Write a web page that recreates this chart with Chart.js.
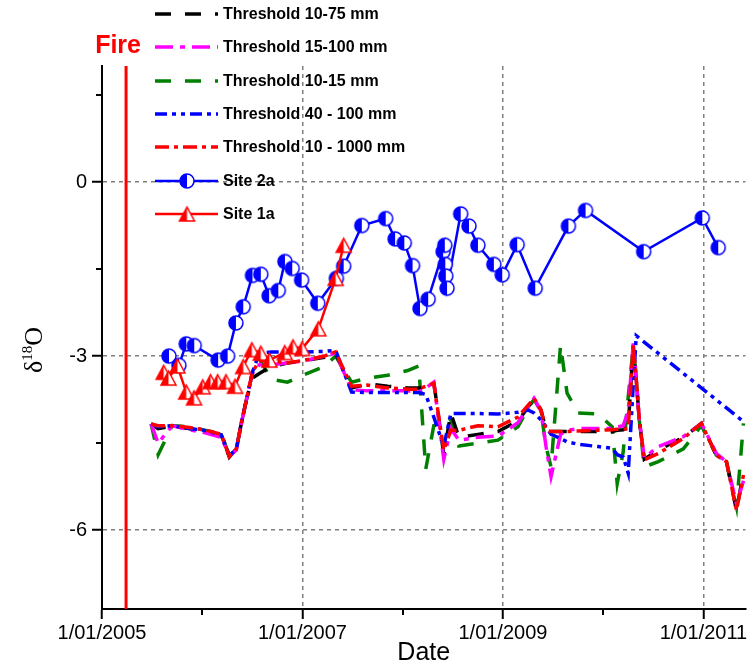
<!DOCTYPE html>
<html>
<head>
<meta charset="utf-8">
<script src="https://cdn.jsdelivr.net/npm/chart.js@4"></script>
<style>
  html, body { margin: 0; padding: 0; background: #fff; }
  #wrap { width: 755px; height: 668px; position: relative; }
</style>
</head>
<body>
<div id="wrap"><canvas id="chart"></canvas></div>
<script>
// ---------- Data ----------
const SERIES_LABELS = [
  "Threshold 10-75 mm",
  "Threshold 15-100 mm",
  "Threshold 10-15 mm",
  "Threshold 40 - 100 mm",
  "Threshold 10 - 1000 mm",
  "Site 2a",
  "Site 1a",
];

// decimal years, shared by the five modelled threshold series
const THRESHOLD_DATES = [
  2005.49, 2005.56, 2005.70, 2005.87, 2006.02, 2006.19, 2006.27, 2006.34, 2006.39, 2006.44,
  2006.50, 2006.57, 2006.69, 2006.85, 2007.02, 2007.22, 2007.33, 2007.49, 2007.65, 2007.85,
  2008.05, 2008.16, 2008.23, 2008.31, 2008.41, 2008.48, 2008.56, 2008.75, 2008.95, 2009.15,
  2009.25, 2009.31, 2009.38, 2009.43, 2009.48, 2009.575, 2009.64, 2009.75, 2009.95, 2010.09,
  2010.14, 2010.20, 2010.25, 2010.30, 2010.33, 2010.36, 2010.41, 2010.55, 2010.80, 2010.98,
  2011.13, 2011.23, 2011.33, 2011.40,
];

const T_10_75 = [
  -4.17, -4.25, -4.21, -4.25, -4.30, -4.36, -4.74, -4.60, -4.16, -3.76,
  -3.38, -3.30, -3.18, -3.12, -3.08, -3.02, -2.95, -3.55, -3.48, -3.52,
  -3.55, -3.55, -3.50, -3.45, -4.70, -3.98, -4.40, -4.35, -4.30, -4.12,
  -3.88, -3.73, -3.93, -4.28, -4.30, -4.30, -4.30, -4.30, -4.30, -4.30,
  -4.28, -4.27, -4.22, -2.81, -3.40, -4.10, -4.78, -4.62, -4.40, -4.16,
  -4.71, -4.82, -5.66, -5.00,
];

const T_15_100 = [
  -4.17, -4.50, -4.20, -4.27, -4.32, -4.40, -4.72, -4.62, -4.16, -3.76,
  -3.30, -3.15, -3.15, -3.12, -3.08, -3.00, -2.95, -3.58, -3.60, -3.60,
  -3.60, -3.62, -3.55, -3.45, -4.78, -4.25, -4.45, -4.40, -4.38, -4.15,
  -3.88, -3.73, -3.95, -4.56, -5.08, -4.35, -4.28, -4.25, -4.25, -4.25,
  -4.22, -4.20, -3.95, -2.78, -3.40, -4.10, -4.75, -4.56, -4.39, -4.16,
  -4.68, -4.82, -5.55, -5.15,
];

const T_10_15 = [
  -4.17, -4.70, -4.20, -4.22, -4.28, -4.33, -4.72, -4.62, -4.16, -3.76,
  -3.30, -3.05, -3.40, -3.45, -3.32, -3.18, -3.00, -3.45, -3.38, -3.33,
  -3.25, -3.17, -4.95, -4.20, -4.15, -4.08, -4.55, -4.50, -4.45, -4.22,
  -3.90, -3.75, -3.95, -4.56, -4.91, -2.81, -3.64, -3.98, -4.00, -4.22,
  -5.20, -4.65, -3.70, -2.84, -3.40, -4.10, -4.91, -4.82, -4.60, -4.20,
  -4.71, -4.82, -5.60, -4.16,
];

const T_40_100 = [
  -4.17, -4.22, -4.20, -4.25, -4.28, -4.36, -4.72, -4.60, -4.16, -3.76,
  -3.28, -2.95, -2.93, -2.93, -2.93, -2.92, -2.90, -3.62, -3.63, -3.63,
  -3.63, -3.63, -3.66, -4.05, -4.56, -3.99, -3.99, -3.99, -4.00, -3.97,
  -3.93, -3.98, -4.10, -4.22, -4.35, -4.42, -4.48, -4.52, -4.56, -4.59,
  -4.70, -4.74, -5.02, -3.50, -2.65, null, null, null, null, null,
  null, null, null, -4.13,
];

const T_10_1000 = [
  -4.17, -4.20, -4.20, -4.23, -4.27, -4.35, -4.73, -4.60, -4.16, -3.76,
  -3.28, -3.08, -3.08, -3.12, -3.07, -3.00, -2.93, -3.52, -3.50, -3.55,
  -3.57, -3.57, -3.52, -3.47, -4.62, -4.28, -4.28, -4.20, -4.22, -4.05,
  -3.85, -3.73, -3.93, -4.28, -4.30, -4.30, -4.30, -4.29, -4.28, -4.27,
  -4.26, -4.26, -4.25, -2.81, -3.40, -4.10, -4.79, -4.68, -4.42, -4.16,
  -4.71, -4.82, -5.66, -5.05,
];

const SITE2A_DATES = [
  2005.668, 2005.767, 2005.840, 2005.920, 2006.158, 2006.253, 2006.336, 2006.409, 2006.501, 2006.584,
  2006.667, 2006.759, 2006.825, 2006.898, 2006.991, 2007.153, 2007.338, 2007.411, 2007.592, 2007.830,
  2007.924, 2008.016, 2008.098, 2008.172, 2008.254, 2008.403, 2008.420, 2008.425, 2008.430, 2008.442,
  2008.578, 2008.661, 2008.750, 2008.909, 2008.993, 2009.142, 2009.322, 2009.653, 2009.824, 2010.404,
  2010.989, 2011.148,
];
const SITE2A_VALUES = [
  -3.00, -3.16, -2.79, -2.82, -3.07, -3.00, -2.43, -2.15, -1.61, -1.59,
  -1.96, -1.87, -1.37, -1.49, -1.69, -2.09, -1.66, -1.45, -0.75, -0.63,
  -0.98, -1.05, -1.44, -2.18, -2.02, -1.20, -1.09, -1.42, -1.62, -1.83,
  -0.55, -0.76, -1.09, -1.42, -1.60, -1.08, -1.83, -0.76, -0.49, -1.20,
  -0.62, -1.13,
];

const SITE1A_DATES = [
  2005.615, 2005.663, 2005.752, 2005.840, 2005.918, 2006.005, 2006.083, 2006.154, 2006.237, 2006.327,
  2006.409, 2006.495, 2006.584, 2006.670, 2006.823, 2006.905, 2006.997, 2007.158, 2007.331, 2007.411,
];
const SITE1A_VALUES = [
  -3.28, -3.38, -3.17, -3.62, -3.72, -3.53, -3.44, -3.44, -3.44, -3.52,
  -3.18, -2.89, -2.95, -3.07, -2.94, -2.84, -2.87, -2.53, -1.66, -1.09,
];

const FIRE_DATE = 2005.24;
const FIRE_LABEL = "Fire";

const X_MIN = 2005, X_MAX = 2011.42;
const Y_MIN = -7.36, Y_MAX = 2.0;
const X_TICKS = [2005, 2006, 2007, 2008, 2009, 2010, 2011];
const X_LABELED = [2005, 2007, 2009, 2011];
const Y_TICKS = [-6, -4.5, -3, -1.5, 0, 1.5];
const Y_LABELED = [-6, -3, 0];

// ---------- Markers ----------
function makeHalfCircle(color, r) {
  const s = Math.ceil(r * 2 + 4);
  const c = document.createElement("canvas");
  c.width = c.height = s;
  const g = c.getContext("2d");
  const cx = s / 2, cy = s / 2;
  g.fillStyle = "#fff";
  g.beginPath(); g.arc(cx, cy, r, 0, Math.PI * 2); g.fill();
  g.fillStyle = color;
  g.beginPath(); g.arc(cx, cy, r, Math.PI / 2, Math.PI * 1.5); g.closePath(); g.fill();
  g.strokeStyle = color; g.lineWidth = 1.5;
  g.beginPath(); g.arc(cx, cy, r, 0, Math.PI * 2); g.stroke();
  return c;
}

function makeHalfTriangle(color, r) {
  const w = Math.ceil(r * 2 + 4), h = Math.ceil(r * 1.8 + 4);
  const c = document.createElement("canvas");
  c.width = w; c.height = h;
  const g = c.getContext("2d");
  const cx = w / 2, top = 2, bot = h - 2;
  const half = r;
  g.fillStyle = "#fff";
  g.beginPath(); g.moveTo(cx, top); g.lineTo(cx - half, bot); g.lineTo(cx + half, bot); g.closePath(); g.fill();
  g.fillStyle = color;
  g.beginPath(); g.moveTo(cx, top); g.lineTo(cx - half, bot); g.lineTo(cx, bot); g.closePath(); g.fill();
  g.strokeStyle = color; g.lineWidth = 1.5; g.lineJoin = "miter";
  g.beginPath(); g.moveTo(cx, top); g.lineTo(cx - half, bot); g.lineTo(cx + half, bot); g.closePath(); g.stroke();
  return c;
}

const circleMarker = makeHalfCircle("#0000ff", 7);
const triangleMarker = makeHalfTriangle("#ff0000", 7.5);

// ---------- Datasets ----------
function pts(dates, values) {
  return dates.map((d, i) => ({ x: d, y: values[i] }));
}

function thresholdSet(label, values, color, dash) {
  return {
    label,
    data: pts(THRESHOLD_DATES, values),
    borderColor: color,
    backgroundColor: color,
    borderWidth: 3.5,
    borderDash: dash,
    pointRadius: 0,
    pointHoverRadius: 0,
    spanGaps: true,
  };
}

const siteSet = (label, dates, values, color, marker) => ({
  label,
  data: pts(dates, values),
  borderColor: color,
  backgroundColor: color,
  borderWidth: 2.5,
  pointStyle: marker,
  pointRadius: 7,
  pointHoverRadius: 7,
});

// first in the array is drawn on top
const datasets = [
  siteSet(SERIES_LABELS[6], SITE1A_DATES, SITE1A_VALUES, "#ff0000", triangleMarker),
  siteSet(SERIES_LABELS[5], SITE2A_DATES, SITE2A_VALUES, "#0000ff", circleMarker),
  thresholdSet(SERIES_LABELS[4], T_10_1000, "#ff0000", [14, 5, 4, 5]),
  thresholdSet(SERIES_LABELS[3], T_40_100, "#0000ff", [12, 5, 4, 5, 4, 5]),
  thresholdSet(SERIES_LABELS[1], T_15_100, "#ff00ff", [18, 7, 5, 7]),
  thresholdSet(SERIES_LABELS[0], T_10_75, "#000000", [16, 14]),
  thresholdSet(SERIES_LABELS[2], T_10_15, "#008000", [16, 14]),
  {
    label: FIRE_LABEL,
    data: [{ x: FIRE_DATE, y: Y_MAX }, { x: FIRE_DATE, y: Y_MIN }],
    borderColor: "#ff0000",
    borderWidth: 3,
    pointRadius: 0,
  },
];

// legend rows, top to bottom, as dataset indices
const LEGEND_ORDER = [5, 4, 6, 3, 2, 1, 0];

// ---------- Overlay: legend, fire label, y title, minor ticks ----------
const overlayPlugin = {
  id: "overlay",
  afterDraw(chart) {
    const ctx = chart.ctx;
    const xs = chart.scales.x, ys = chart.scales.y;
    ctx.save();

    // minor ticks
    ctx.strokeStyle = "#000";
    ctx.lineWidth = 2;
    X_TICKS.filter(v => !X_LABELED.includes(v)).forEach(v => {
      const px = Math.round(xs.getPixelForValue(v));
      ctx.beginPath(); ctx.moveTo(px, ys.bottom); ctx.lineTo(px, ys.bottom + 6); ctx.stroke();
    });
    Y_TICKS.filter(v => !Y_LABELED.includes(v)).forEach(v => {
      const py = Math.round(ys.getPixelForValue(v));
      ctx.beginPath(); ctx.moveTo(xs.left - 6, py); ctx.lineTo(xs.left, py); ctx.stroke();
    });

    // fire label
    ctx.fillStyle = "#ff0000";
    ctx.font = "bold 25px 'Liberation Sans'";
    ctx.textAlign = "center";
    ctx.textBaseline = "alphabetic";
    ctx.fillText(FIRE_LABEL, xs.getPixelForValue(FIRE_DATE) - 8, 53);

    // legend
    LEGEND_ORDER.forEach((dsIndex, row) => {
      const ds = chart.data.datasets[dsIndex];
      const y = Math.round(14 + row * 33.3);
      ctx.strokeStyle = ds.borderColor;
      ctx.lineWidth = ds.borderWidth;
      ctx.setLineDash(ds.borderDash || []);
      ctx.beginPath(); ctx.moveTo(155, y); ctx.lineTo(218, y); ctx.stroke();
      ctx.setLineDash([]);
      if (ds.pointStyle instanceof HTMLCanvasElement) {
        const m = ds.pointStyle;
        ctx.drawImage(m, 187 - m.width / 2, y - m.height / 2);
      }
      ctx.fillStyle = "#000";
      ctx.font = "bold 16px 'Liberation Sans'";
      ctx.textAlign = "left";
      ctx.textBaseline = "middle";
      ctx.fillText(ds.label, 223, y + 1);
    });

    // y axis title: delta 18 O
    ctx.translate(0, 350);
    ctx.rotate(-Math.PI / 2);
    ctx.fillStyle = "#000";
    ctx.textAlign = "left";
    ctx.textBaseline = "alphabetic";
    const big = "26px 'Liberation Serif'", small = "15px 'Liberation Serif'";
    ctx.font = big; const wd = ctx.measureText("δ").width, wo = ctx.measureText("O").width;
    ctx.font = small; const ws = ctx.measureText("18").width;
    let x0 = -(wd + ws + wo) / 2;
    ctx.font = big; ctx.fillText("δ", x0, 42);
    ctx.font = small; ctx.fillText("18", x0 + wd, 32);
    ctx.font = big; ctx.fillText("O", x0 + wd + ws, 42);

    ctx.restore();
  },
};

// ---------- Chart ----------
new Chart(document.getElementById("chart"), {
  type: "line",
  data: { datasets },
  plugins: [overlayPlugin],
  options: {
    responsive: true,
    maintainAspectRatio: false,
    animation: false,
    layout: { padding: { top: 66, right: 6, left: 0, bottom: 0 } },
    plugins: { legend: { display: false }, tooltip: { enabled: false } },
    elements: { line: { tension: 0 } },
    scales: {
      x: {
        type: "linear",
        min: X_MIN,
        max: X_MAX,
        afterBuildTicks: s => { s.ticks = X_TICKS.map(v => ({ value: v })); },
        afterFit: s => { s.height = 59; s.paddingLeft = 0; s.paddingRight = 0; },
        ticks: {
          autoSkip: false,
          maxRotation: 0,
          padding: 2,
          color: "#000",
          font: { family: "'Liberation Sans'", size: 20 },
          callback: v => X_LABELED.includes(v) ? "1/01/" + v : "",
        },
        grid: {
          color: c => (c.tick && X_LABELED.includes(c.tick.value) && c.tick.value !== X_MIN) ? "#808080" : "rgba(0,0,0,0)",
          lineWidth: 1.5,
          tickLength: 10,
          tickWidth: 2,
          tickColor: c => (c.tick && X_LABELED.includes(c.tick.value)) ? "#000" : "rgba(0,0,0,0)",
        },
        border: { display: true, color: "#000", width: 2, dash: [4, 4] },
        title: { display: true, text: "Date", color: "#000", font: { family: "'Liberation Sans'", size: 25 }, padding: { top: 6, bottom: 0 } },
      },
      y: {
        type: "linear",
        min: Y_MIN,
        max: Y_MAX,
        afterBuildTicks: s => { s.ticks = Y_TICKS.map(v => ({ value: v })); },
        afterFit: s => { s.width = 102; },
        ticks: {
          padding: 5,
          color: "#000",
          font: { family: "'Liberation Sans'", size: 20 },
          callback: v => Y_LABELED.includes(v) ? String(v) : "",
        },
        grid: {
          color: c => (c.tick && Y_LABELED.includes(c.tick.value)) ? "#808080" : "rgba(0,0,0,0)",
          lineWidth: 1.5,
          tickLength: 10,
          tickWidth: 2,
          tickColor: c => (c.tick && Y_LABELED.includes(c.tick.value)) ? "#000" : "rgba(0,0,0,0)",
        },
        border: { display: true, color: "#000", width: 2, dash: [4, 4] },
      },
    },
  },
});
</script>
</body>
</html>
